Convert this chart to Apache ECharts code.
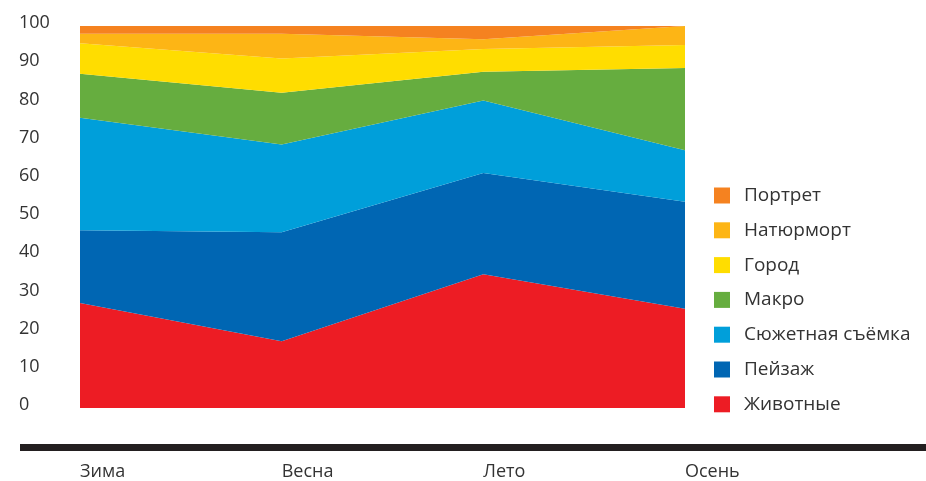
<!DOCTYPE html>
<html>
<head>
<meta charset="utf-8">
<script src="https://cdn.jsdelivr.net/npm/echarts@6/dist/echarts.min.js"></script>
<style>
html,body{margin:0;padding:0;background:#fff;}
#c{width:926px;height:481px;}
</style>
</head>
<body>
<div id="c"></div>
<script>
const categories = ['Зима', 'Весна', 'Лето', 'Осень'];
const seriesNames = ['Животные', 'Пейзаж', 'Сюжетная съёмка', 'Макро', 'Город', 'Натюрморт', 'Портрет'];
const colors = ['#ed1c24', '#0066b3', '#009fda', '#66ad3f', '#ffdd00', '#fdb515', '#f58220'];
const animals   = [27.5, 17.5, 35.0, 26.0];
const landscape = [19.0, 28.5, 26.5, 28.0];
const story     = [29.5, 23.0, 19.0, 13.5];
const macro     = [11.5, 13.5, 7.5, 21.5];
const city      = [8.0, 9.0, 6.0, 6.0];
const stillLife = [2.5, 6.5, 2.5, 5.0];
const portrait  = [2.0, 2.0, 3.5, 0.0];
const values = [animals, landscape, story, macro, city, stillLife, portrait];
const yTicks = [0, 10, 20, 30, 40, 50, 60, 70, 80, 90, 100];

const font = 'Open Sans';
const chart = echarts.init(document.getElementById('c'), null, {renderer: 'canvas'});
chart.setOption({
  animation: false,
  backgroundColor: '#fff',
  grid: {left: 80, right: 241, top: 26, bottom: 72, containLabel: false},
  xAxis: {
    type: 'category',
    data: categories,
    boundaryGap: false,
    axisLine: {show: false},
    axisTick: {show: false},
    splitLine: {show: false},
    axisLabel: {
      align: 'left', margin: 55, fontSize: 18, color: '#333', fontFamily: font
    }
  },
  yAxis: {
    type: 'value',
    min: yTicks[0], max: yTicks[yTicks.length - 1], interval: 10,
    axisLine: {show: false},
    axisTick: {show: false},
    splitLine: {show: false},
    axisLabel: {
      align: 'left', margin: 61, fontSize: 18, color: '#333', fontFamily: font,
      verticalAlign: 'bottom', lineHeight: 6
    }
  },
  legend: {
    orient: 'vertical',
    left: 714, top: 186, padding: 0,
    icon: 'rect',
    itemWidth: 16, itemHeight: 16, itemGap: 15.8,
    data: seriesNames.slice().reverse(),
    textStyle: {fontSize: 19, color: '#333', fontFamily: font, padding: [0, 0, 0, 9], lineHeight: 16}
  },
  graphic: [{
    type: 'rect', left: 20, top: 444,
    shape: {width: 906, height: 7},
    style: {fill: '#231f20'}
  }],
  series: seriesNames.map((n, i) => ({
    name: n, type: 'line', stack: 'total',
    data: values[i],
    symbol: 'none',
    color: colors[i],
    lineStyle: {width: 0},
    areaStyle: {color: colors[i], opacity: 1}
  }))
});
</script>
</body>
</html>
